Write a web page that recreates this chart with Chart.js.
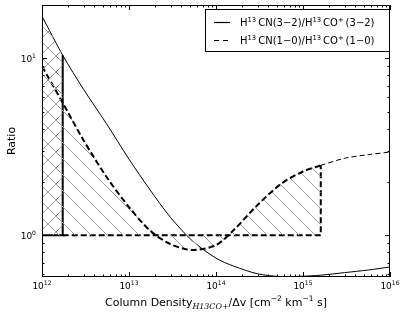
<!DOCTYPE html>
<html>
<head>
<meta charset="utf-8">
<script src="https://cdn.jsdelivr.net/npm/chart.js@4.4.0/dist/chart.umd.min.js"></script>
<style>
  html, body { margin: 0; padding: 0; background: #fff; }
</style>
</head>
<body>
<canvas id="myChart" width="407" height="317"></canvas>
<script>
// values (x = column density / dv)
const columnDensity = [1e12, 1.73e12, 3e12, 5.5e12, 1e13, 1.75e13, 3e13, 5.3e13, 1e14, 1.6e14, 3e14, 5.6e14, 1e15, 1.6e15, 3e15, 5.6e15, 1e16];
const ratio32 = [17.3, 10.4, 6.68, 4.27, 2.69, 1.80, 1.26, 0.933, 0.741, 0.668, 0.605, 0.582, 0.586, 0.594, 0.614, 0.635, 0.661];
const ratio10 = [9.0, 5.6, 3.44, 2.14, 1.44, 1.06, 0.89, 0.824, 0.88, 1.07, 1.48, 1.95, 2.29, 2.48, 2.72, 2.85, 2.95];

// hatched ranges end at these points of columnDensity
const hatchEnd32 = 1;
const hatchEnd10 = 13;
const threshold = 1;

const xMajorTicks = [1e12, 1e13, 1e14, 1e15, 1e16];
const xTickExps = ['12', '13', '14', '15', '16'];
const yMajorTicks = [1, 10];
const yTickExps = ['0', '1'];
const minorSteps = [2, 3, 4, 5, 6, 7, 8, 9];

// [text, 0 normal | 1 superscript | 2 italic subscript]
const legendLabels = [
  [['H', 0], ['13', 1], ['\u2009CN(3\u22122)/H', 0], ['13', 1], ['\u2009CO', 0], ['+', 1], ['\u2009(3\u22122)', 0]],
  [['H', 0], ['13', 1], ['\u2009CN(1\u22120)/H', 0], ['13', 1], ['\u2009CO', 0], ['+', 1], ['\u2009(1\u22120)', 0]]
];
const xTitle = [['Column Density', 0], ['H13CO+', 2], ['/\u0394v [cm', 0], ['\u22122', 1], [' km', 0], ['\u22121', 1], [' s]', 0]];
const yTitle = 'Ratio';

const FONT = '"DejaVu Sans"';

function pts(ys, from, to) {
  let out = [];
  for (let i = from; i <= to; i++) out.push({ x: columnDensity[i], y: ys[i] });
  return out;
}

function makeHatch(ctx, slashes) {
  const s = 16;
  const c = document.createElement('canvas');
  c.width = s; c.height = s;
  const g = c.getContext('2d');
  g.strokeStyle = '#9a9a9a';
  g.lineWidth = 1;
  g.beginPath();
  for (let k = -1; k <= 1; k++) {
    if (slashes.includes('\\')) { g.moveTo(k * s - 1, -1); g.lineTo(k * s + s + 1, s + 1); }
    if (slashes.includes('/')) { g.moveTo(k * s - 1, s + 1); g.lineTo(k * s + s + 1, -1); }
  }
  g.stroke();
  return ctx.createPattern(c, 'repeat');
}

function fontFor(kind, size) {
  if (kind === 1) return (size * 0.68).toFixed(1) + 'px ' + FONT;
  if (kind === 2) return 'italic ' + (size * 0.72).toFixed(1) + 'px "DejaVu Serif"';
  return size + 'px ' + FONT;
}

function drawRich(ctx, parts, x, y, size, align) {
  let w = 0;
  parts.forEach((p) => { ctx.font = fontFor(p[1], size); w += ctx.measureText(p[0]).width; });
  let cx = align === 'center' ? x - w / 2 : (align === 'right' ? x - w : x);
  ctx.textAlign = 'left';
  ctx.textBaseline = 'alphabetic';
  parts.forEach((p) => {
    ctx.font = fontFor(p[1], size);
    let dy = p[1] === 1 ? -size * 0.42 : (p[1] === 2 ? size * 0.28 : 0);
    ctx.fillText(p[0], cx, y + dy);
    cx += ctx.measureText(p[0]).width;
  });
}

const decorPlugin = {
  id: 'decor',
  afterDraw(chart) {
    const ctx = chart.ctx;
    const a = chart.chartArea;
    const xs = chart.scales.x;
    const ys = chart.scales.y;
    ctx.save();
    ctx.strokeStyle = '#000';
    ctx.fillStyle = '#000';
    ctx.lineWidth = 1;
    ctx.strokeRect(a.left + 0.5, a.top + 0.5, a.right - a.left - 1, a.bottom - a.top - 1);

    // inward ticks on all four sides
    ctx.beginPath();
    xMajorTicks.forEach((t, i) => {
      let list = [[t, 5]];
      if (i < xMajorTicks.length - 1) minorSteps.forEach((m) => list.push([t * m, 2.5]));
      list.forEach(([v, len]) => {
        let px = Math.round(xs.getPixelForValue(v)) + 0.5;
        ctx.moveTo(px, a.bottom); ctx.lineTo(px, a.bottom - len);
        ctx.moveTo(px, a.top); ctx.lineTo(px, a.top + len);
      });
    });
    [0.1, 1, 10].forEach((d) => {
      [1].concat(minorSteps).forEach((m) => {
        let v = d * m;
        if (v < ys.min || v > ys.max) return;
        let len = m === 1 ? 5 : 2.5;
        let py = Math.round(ys.getPixelForValue(v)) + 0.5;
        ctx.moveTo(a.left, py); ctx.lineTo(a.left + len, py);
        ctx.moveTo(a.right, py); ctx.lineTo(a.right - len, py);
      });
    });
    ctx.stroke();

    // tick labels
    xMajorTicks.forEach((t, i) => {
      drawRich(ctx, [['10', 0], [xTickExps[i], 1]], xs.getPixelForValue(t), a.bottom + 12, 9, 'center');
    });
    yMajorTicks.forEach((t, i) => {
      drawRich(ctx, [['10', 0], [yTickExps[i], 1]], a.left - 6, ys.getPixelForValue(t) + 3.5, 9, 'right');
    });

    // axis titles
    drawRich(ctx, xTitle, (a.left + a.right) / 2, 306, 11, 'center');
    ctx.save();
    ctx.translate(15, (a.top + a.bottom) / 2);
    ctx.rotate(-Math.PI / 2);
    ctx.font = '11px ' + FONT;
    ctx.textAlign = 'center';
    ctx.textBaseline = 'alphabetic';
    ctx.fillText(yTitle, 0, 0);
    ctx.restore();

    // legend box inside the axes
    const lx = 205, ly = 9, lw = a.right - lx, lh = 43;
    ctx.fillStyle = '#fff';
    ctx.fillRect(lx, ly, lw, lh);
    ctx.strokeStyle = '#000';
    ctx.strokeRect(lx + 0.5, ly + 0.5, lw - 1, lh - 1);
    ctx.fillStyle = '#000';
    [22, 40].forEach((rowY, i) => {
      ctx.beginPath();
      ctx.lineWidth = 1.2;
      ctx.setLineDash(i === 0 ? [] : [5, 4]);
      ctx.moveTo(214, rowY + 0.5);
      ctx.lineTo(230, rowY + 0.5);
      ctx.stroke();
      ctx.setLineDash([]);
      drawRich(ctx, legendLabels[i], 240, rowY + 3.8, 10, 'left');
    });
    ctx.restore();
  }
};

function addRatioChart() {
  const canvas = document.getElementById('myChart');
  const ctx = canvas.getContext('2d');
  const crossHatch = makeHatch(ctx, '/\\');
  const backHatch = makeHatch(ctx, '\\');

  const data = {
    datasets: [{
      label: 'hatch 3-2',
      data: pts(ratio32, 0, hatchEnd32),
      fill: { value: threshold },
      backgroundColor: crossHatch,
      borderWidth: 0,
      borderColor: 'rgba(0,0,0,0)',
      tension: 0
    }, {
      label: 'hatch 1-0',
      data: pts(ratio10, 0, hatchEnd10),
      fill: { value: threshold },
      backgroundColor: backHatch,
      borderColor: '#000',
      borderWidth: 2,
      borderDash: [6, 3],
      tension: 0.3
    }, {
      label: 'H13CN(1-0)/H13CO+ (1-0)',
      data: pts(ratio10, hatchEnd10, columnDensity.length - 1),
      fill: false,
      borderColor: '#000',
      borderWidth: 1,
      borderDash: [5, 3],
      tension: 0.3
    }, {
      label: 'H13CN(3-2)/H13CO+ (3-2)',
      data: pts(ratio32, 0, columnDensity.length - 1),
      fill: false,
      borderColor: '#000',
      borderWidth: 1,
      tension: 0.3
    }, {
      label: 'edge 3-2',
      data: [
        { x: columnDensity[0], y: threshold },
        { x: columnDensity[hatchEnd32], y: threshold },
        { x: columnDensity[hatchEnd32], y: ratio32[hatchEnd32] }
      ],
      fill: false,
      borderColor: '#000',
      borderWidth: 2,
      tension: 0
    }, {
      label: 'edge 1-0',
      data: [
        { x: columnDensity[hatchEnd32], y: threshold },
        { x: columnDensity[hatchEnd10], y: threshold },
        { x: columnDensity[hatchEnd10], y: ratio10[hatchEnd10] }
      ],
      fill: false,
      borderColor: '#000',
      borderWidth: 2,
      borderDash: [6, 3],
      tension: 0
    }]
  };

  const config = {
    type: 'line',
    data: data,
    options: {
      responsive: false,
      animation: false,
      elements: { point: { radius: 0 } },
      layout: { padding: { left: 42, top: 5, right: 17, bottom: 40 } },
      plugins: { legend: { display: false }, tooltip: { enabled: false } },
      scales: {
        x: {
          type: 'logarithmic',
          display: false,
          min: 1e12,
          max: 1e16
        },
        y: {
          type: 'logarithmic',
          display: false,
          min: 0.58,
          max: 20
        }
      }
    },
    plugins: [decorPlugin]
  };
  return new Chart(canvas, config);
}

let myChart = addRatioChart();
</script>
</body>
</html>
